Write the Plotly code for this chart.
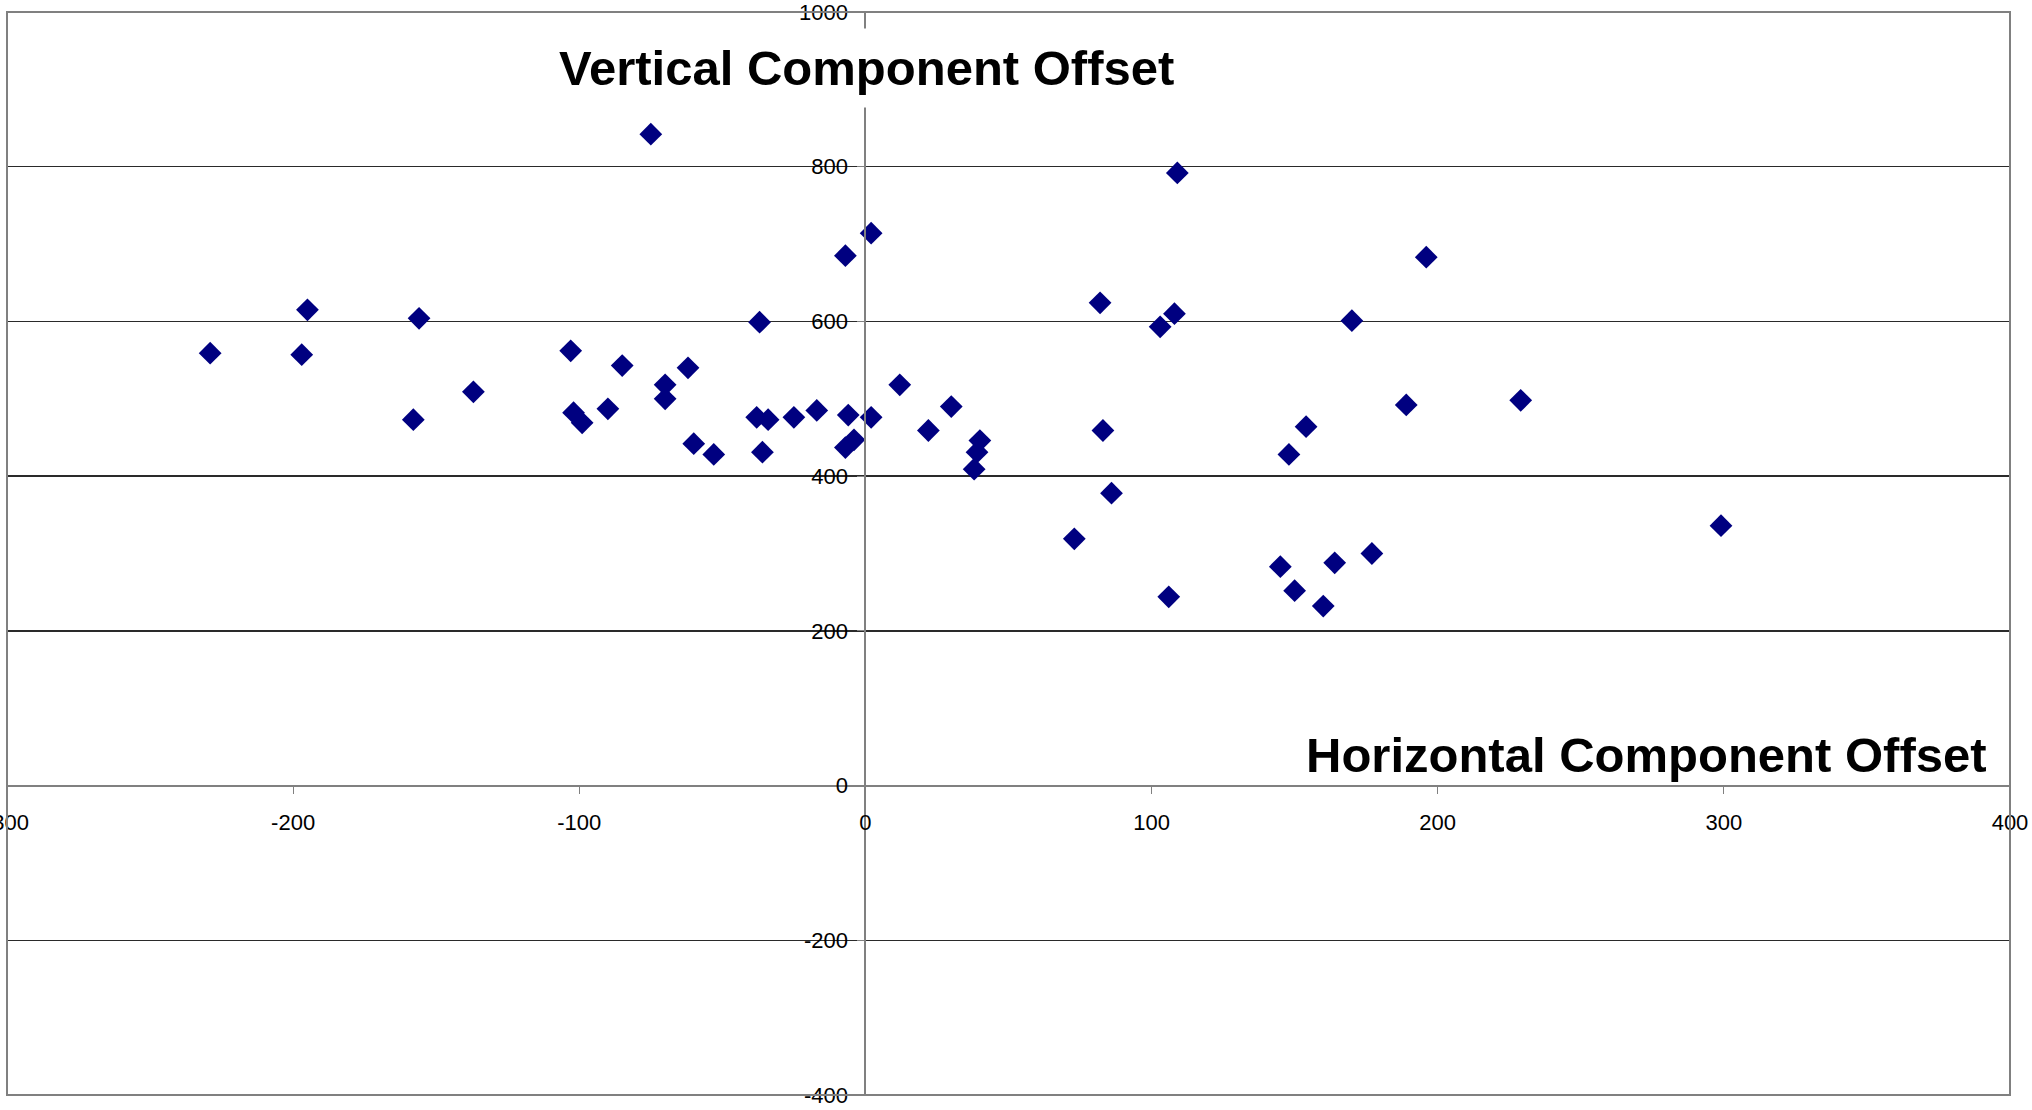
import plotly.graph_objects as go

# Data
horizontal_offset = [
    -229, -197, -195, -156, -158, -137, -103, -102, -99, -90, -85,
    -75, -70, -70, -62, -60, -53, -37, -38, -34, -36, -25, -17,
    -7, 2, -6, 2, -7, -4, 12, 22, 30, 40, 39, 38,
    82, 83, 86, 73, 109, 108, 103, 170, 196, 189, 229,
    154, 148, 106, 145, 150, 160, 164, 177, 299,
]
vertical_offset = [
    559, 557, 615, 604, 473, 509, 562, 482, 469, 487, 543,
    842, 518, 500, 540, 442, 428, 599, 476, 473, 431, 476, 485,
    685, 714, 479, 476, 437, 447, 518, 459, 490, 446, 431, 409,
    624, 459, 378, 319, 792, 610, 593, 601, 683, 492, 498,
    464, 428, 244, 283, 252, 232, 288, 300, 336,
]

x_range = [-300, 400]
y_range = [-400, 1000]
x_tick_values = [-300, -200, -100, 0, 100, 200, 300, 400]
x_tick_labels = ["-300", "-200", "-100", "0", "100", "200", "300", "400"]
y_tick_values = [-400, -200, 0, 200, 400, 600, 800, 1000]
y_tick_labels = ["-400", "-200", "0", "200", "400", "600", "800", "1000"]
vertical_title = "Vertical Component Offset"
horizontal_title = "Horizontal Component Offset"

FONT = "Liberation Sans, Arial, sans-serif"
AXIS_GRAY = "#808080"

fig = go.Figure()
fig.add_trace(go.Scatter(
    x=horizontal_offset,
    y=vertical_offset,
    mode="markers",
    marker=dict(symbol="diamond", size=17.5, color="#000080", line=dict(width=0)),
    hoverinfo="skip",
    showlegend=False,
))

x_pos = (0 - y_range[0]) / (y_range[1] - y_range[0])
y_pos = (0 - x_range[0]) / (x_range[1] - x_range[0])

fig.update_layout(
    width=2032,
    height=1110,
    margin=dict(l=7, r=22, t=12, b=15),
    paper_bgcolor="white",
    plot_bgcolor="white",
    font=dict(family=FONT, color="black"),
    xaxis=dict(
        range=x_range,
        tickmode="array",
        tickvals=x_tick_values,
        ticktext=x_tick_labels,
        anchor="free",
        position=x_pos,
        domain=[0, 1],
        showgrid=False,
        zeroline=False,
        showline=True,
        linecolor=AXIS_GRAY,
        linewidth=2,
        ticks="outside",
        ticklen=7,
        tickcolor=AXIS_GRAY,
        tickfont=dict(size=22, family=FONT, color="black"),
        ticklabelstandoff=10,
        ticklabeloverflow="allow",
        automargin=False,
        fixedrange=True,
    ),
    yaxis=dict(
        range=y_range,
        tickmode="array",
        tickvals=y_tick_values,
        ticktext=y_tick_labels,
        anchor="free",
        position=y_pos,
        domain=[0, 1],
        showgrid=True,
        gridcolor="#2a2a2a",
        gridwidth=1.3,
        zeroline=False,
        showline=True,
        linecolor=AXIS_GRAY,
        linewidth=2,
        ticks="outside",
        ticklen=7,
        tickcolor=AXIS_GRAY,
        tickfont=dict(size=22, family=FONT, color="black"),
        ticklabelstandoff=5,
        ticklabeloverflow="allow",
        automargin=False,
        fixedrange=True,
    ),
    shapes=[
        dict(type="rect", xref="paper", yref="paper", x0=0, y0=0, x1=1, y1=1,
             line=dict(color=AXIS_GRAY, width=2), layer="above"),
    ],
    annotations=[
        dict(text=vertical_title, xref="x", yref="y", x=0.5, y=928,
             xanchor="center", yanchor="middle", showarrow=False,
             font=dict(size=49, family=FONT, color="black", weight="bold"),
             bgcolor="white", borderpad=12),
        dict(text=horizontal_title, xref="x", yref="y", x=392.5, y=39,
             xanchor="right", yanchor="middle", showarrow=False,
             font=dict(size=49, family=FONT, color="black", weight="bold")),
    ],
)

fig.write_html("out.html", config={"displayModeBar": False, "staticPlot": True})
